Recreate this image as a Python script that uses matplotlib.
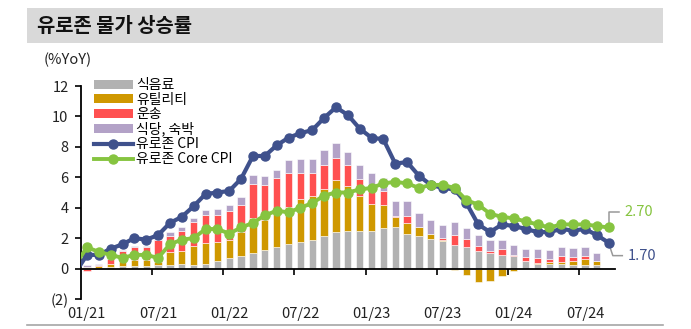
import matplotlib
matplotlib.use('Agg')
import matplotlib.pyplot as plt
from matplotlib.lines import Line2D
from matplotlib.patches import Patch, Rectangle
import numpy as np

plt.rcParams['font.family'] = ['Noto Sans CJK KR', 'DejaVu Sans']

# 월별 기여도 (%p), 01/21 ~ 08/24
food = [0.05, 0.05, 0.09, 0.15, 0.18, 0.17, 0.22, 0.26, 0.30, 0.22, 0.33, 0.52,
        0.68, 0.85, 1.05, 1.25, 1.45, 1.62, 1.77, 1.90, 2.12, 2.38, 2.47, 2.47,
        2.49, 2.67, 2.71, 2.30, 2.12, 1.96, 1.78, 1.57, 1.40, 1.14, 1.03, 0.92,
        0.81, 0.48, 0.28, 0.30, 0.30, 0.24, 0.22, 0.22]
utilities = [0.05, 0.12, 0.24, 0.40, 0.36, 0.42, 0.22, 0.80, 0.88, 1.26, 1.35, 1.22,
             1.22, 1.53, 2.30, 1.97, 2.30, 2.45, 2.80, 2.89, 3.10, 3.41, 2.99, 2.32,
             1.77, 1.48, 0.68, 0.69, 0.61, 0.32, 0.12, -0.10, -0.40, -0.90, -0.83, -0.46,
             -0.17, 0.00, 0.08, 0.12, 0.11, 0.28, 0.39, 0.28]
transport = [-0.15, 0.06, 0.33, 0.60, 0.88, 0.80, 1.45, 1.05, 1.27, 1.57, 1.82, 1.80,
             1.86, 1.77, 2.20, 2.25, 2.20, 2.18, 1.70, 1.48, 1.60, 1.47, 1.32, 1.11,
             1.14, 0.92, 0.04, 0.49, 0.00, -0.05, 0.10, 0.64, 0.55, 0.32, 0.11, 0.37,
             0.11, 0.28, 0.31, 0.24, 0.44, 0.25, 0.24, 0.00]
restaurants = [0.15, 0.10, 0.19, 0.10, 0.08, 0.10, 0.03, 0.28, 0.26, 0.30, 0.35, 0.38,
               0.44, 0.56, 0.60, 0.60, 0.55, 0.88, 0.90, 0.92, 0.98, 0.98, 0.91, 0.92,
               0.87, 0.88, 0.99, 0.98, 0.92, 0.88, 0.88, 0.83, 0.72, 0.75, 0.72, 0.61,
               0.61, 0.55, 0.62, 0.58, 0.57, 0.60, 0.55, 0.55]

# 헤드라인/근원 물가 (% YoY), 12/20 ~ 09/24
cpi = [-0.3,
       0.9, 0.9, 1.3, 1.6, 2.0, 1.9, 2.2, 3.0, 3.4, 4.1, 4.9, 5.0,
       5.1, 5.9, 7.4, 7.4, 8.1, 8.6, 8.9, 9.1, 9.9, 10.6, 10.1, 9.2,
       8.6, 8.5, 6.9, 7.0, 6.1, 5.5, 5.3, 5.2, 4.3, 2.9, 2.4, 2.9,
       2.8, 2.6, 2.4, 2.4, 2.6, 2.5, 2.6, 2.2, 1.7]
core_cpi = [0.2,
            1.4, 1.1, 0.9, 0.7, 0.9, 0.9, 0.7, 1.6, 1.9, 2.0, 2.6, 2.6,
            2.3, 2.7, 3.0, 3.5, 3.8, 3.7, 4.0, 4.3, 4.8, 5.0, 5.0, 5.2,
            5.3, 5.6, 5.7, 5.6, 5.3, 5.5, 5.5, 5.3, 4.5, 4.2, 3.6, 3.4,
            3.3, 3.1, 2.9, 2.7, 2.9, 2.9, 2.9, 2.8, 2.7]

tick_labels = ['01/21', '07/21', '01/22', '07/22', '01/23', '07/23', '01/24', '07/24']
y_ticks = [-2, 0, 2, 4, 6, 8, 10, 12]
y_tick_labels = ['(2)', '0', '2', '4', '6', '8', '10', '12']

c_food = '#b2b2b2'
c_util = '#cf9800'
c_trans = '#ff5050'
c_rest = '#b3a2c7'
c_cpi = '#3f518c'
c_core = '#86c440'

W, H = 691, 329
fig = plt.figure(figsize=(W / 100, H / 100), dpi=100)
fig.patch.set_facecolor('white')

# 제목 바
fig.patches.append(Rectangle((27 / W, 1 - 43 / H), 636 / W, 35 / H,
                             transform=fig.transFigure, facecolor='#d9d9d9',
                             edgecolor='none', zorder=0))
fig.text(37 / W, 1 - 26 / H, '유로존 물가 상승률', fontsize=14.3, fontweight='bold',
         color='#111111', va='center', ha='left')
fig.add_artist(Line2D([27 / W, 663 / W], [1 - 324.5 / H, 1 - 324.5 / H],
                      color='#a6a6a6', linewidth=1.2, transform=fig.transFigure))

ax = fig.add_axes([81 / W, 1 - 299 / H, 533.6 / W, 213 / H])

n_bar = len(food)
x = np.arange(n_bar)
width = 0.62


def stack(ax, series, colors):
    pos = np.zeros(n_bar)
    neg = np.zeros(n_bar)
    for vals, col in zip(series, colors):
        vals = np.array(vals)
        bottom = np.where(vals >= 0, pos, neg)
        ax.bar(x, vals, width, bottom=bottom, color=col, edgecolor='white',
               linewidth=0.4, zorder=2)
        pos = pos + np.clip(vals, 0, None)
        neg = neg + np.clip(vals, None, 0)


stack(ax, [food, utilities, transport, restaurants],
      [c_food, c_util, c_trans, c_rest])

x_line = np.arange(len(cpi)) - 1
ax.plot(x_line, cpi, '-o', color=c_cpi, linewidth=3.0, markersize=6.5, zorder=4)
ax.plot(x_line, core_cpi, '-o', color=c_core, linewidth=2.8, markersize=6.5, zorder=5)

ax.set_xlim(-0.5, len(cpi) - 1.5)
ax.set_ylim(-2, 12)

for s in ['top', 'right']:
    ax.spines[s].set_visible(False)
ax.spines['bottom'].set_position(('data', 0))
ax.spines['left'].set_linewidth(1.3)
ax.spines['bottom'].set_linewidth(1.3)

ax.set_yticks(y_ticks)
ax.set_yticklabels(y_tick_labels, fontsize=10.5, color='#222222')
ax.tick_params(axis='y', direction='out', length=4, width=1.2, pad=5)

ax.set_xticks(np.arange(5.5, n_bar, 6))
ax.set_xticklabels([])
ax.tick_params(axis='x', direction='out', length=4, width=1.2)

for k, lab in enumerate(tick_labels):
    ax.text(k * 6, -0.07, lab, transform=ax.get_xaxis_transform(), fontsize=10.5,
            ha='center', va='center', color='#222222')

fig.text(44 / W, 1 - 60 / H, '(%YoY)', fontsize=10.5, color='#222222',
         ha='left', va='center')

# 마지막 값 표시
last = len(cpi) - 2
ax.plot([last, last, last + 0.9], [core_cpi[-1] + 0.1, 3.75, 3.75],
        color='#999999', linewidth=1.1, zorder=3, clip_on=False)
ax.text(last + 1.3, 3.75, f'{core_cpi[-1]:.2f}', color=c_core, fontsize=10.5,
        ha='left', va='center')
ax.plot([last + 0.05, last + 0.35, last + 1.15], [cpi[-1] - 0.15, 0.85, 0.85],
        color='#999999', linewidth=1.1, zorder=3, clip_on=False)
ax.text(last + 1.6, 0.85, f'{cpi[-1]:.2f}', color=c_cpi, fontsize=10.5,
        ha='left', va='center')

handles = [Patch(facecolor=c_food, edgecolor='none'),
           Patch(facecolor=c_util, edgecolor='none'),
           Patch(facecolor=c_trans, edgecolor='none'),
           Patch(facecolor=c_rest, edgecolor='none'),
           Line2D([], [], color=c_cpi, linewidth=3.0, marker='o', markersize=6.5),
           Line2D([], [], color=c_core, linewidth=2.8, marker='o', markersize=6.5)]
labels = ['식음료', '유틸리티', '운송', '식당, 숙박', '유로존 CPI', '유로존 Core CPI']
fig.legend(handles, labels, loc='upper left', bbox_to_anchor=(94 / W, 1 - 78 / H),
           frameon=False, fontsize=10, labelspacing=0.05, handlelength=2.8,
           handleheight=0.6, handletextpad=0.25, borderpad=0, borderaxespad=0,
           numpoints=1)

fig.savefig('out.png', dpi=100, facecolor='white')
